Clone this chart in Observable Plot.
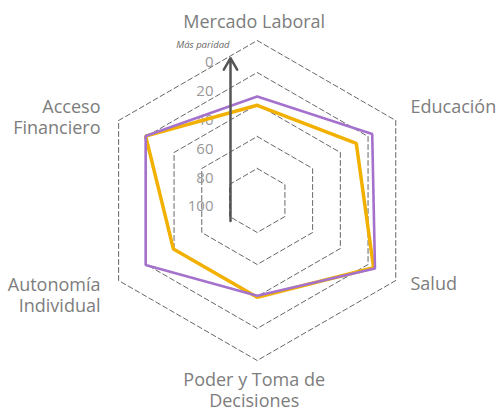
<!DOCTYPE html>
<html>
<head>
<meta charset="utf-8">
<script src="https://cdn.jsdelivr.net/npm/d3@7"></script>
<script src="https://cdn.jsdelivr.net/npm/@observablehq/plot@0.6"></script>
<style>
  html, body { margin: 0; padding: 0; background: #fff; }
  #chart svg { display: block; }
</style>
</head>
<body>
<div id="chart"></div>
<script>
// ---- data ----
const axesLabels = ["Mercado Laboral", "Educación", "Salud", "Poder y Toma de\nDecisiones", "Autonomía\nIndividual", "Acceso\nFinanciero"];
const seriesPurple = [35, 17, 15, 40.5, 19.5, 19.5];
const seriesYellow = [40.5, 28.5, 16, 39.5, 39.5, 19.5];
const tickValues = [0, 20, 40, 60, 80, 100];
const gridLevels = [0, 20, 40, 60, 80];
const axisTitle = "Más paridad";

// ---- geometry ----
const W = 500, H = 414;
const cx = 256.7, cy = 200, R = 160;
const rScale = d3.scaleLinear().domain([0, 100]).range([R, 0]);
const angle = i => (90 - 60 * i) * Math.PI / 180;
const px = (v, i) => cx + rScale(v) * Math.cos(angle(i));
const py = (v, i) => cy - rScale(v) * Math.sin(angle(i));

// grid rings
const ringPts = [];
for (const lv of gridLevels) {
  for (let i = 0; i <= 6; i++) ringPts.push({lv, x: px(lv, i % 6), y: py(lv, i % 6)});
}
const poly = arr => arr.map((v, i) => ({x: px(v, i), y: py(v, i)})).concat([{x: px(arr[0], 0), y: py(arr[0], 0)}]);

// label layout (radial placement, then nudged)
const labelR = [179, 178, 178, 189, 178, 178];
const labelDy = [0, -5, -6, 0, 5, 5];
const labels = axesLabels.map((t, i) => {
  const a = angle(i);
  const c = Math.cos(a);
  const r = labelR[i];
  let x = cx + r * c, y = cy - r * Math.sin(a) + labelDy[i];
  let anchor = Math.abs(c) < 0.1 ? "middle" : (c > 0 ? "start" : "end");
  if (anchor === "middle") x -= 3;
  if (c > 0.1) x = 410;
  if (c < -0.1) x = 100;
  return {t, x, y, anchor};
});

// vertical value axis (offset to the left of center)
const axX = 230;
const axScale = d3.scaleLinear().domain([0, 100]).range([62, 206]);

const font = "'Open Sans', sans-serif";
const chart = Plot.plot({
  width: W, height: H,
  margin: 0,
  x: {domain: [0, W], range: [0, W], axis: null},
  y: {domain: [0, H], range: [0, H], axis: null},
  style: {fontFamily: font, background: "#fff"},
  marks: [
    Plot.line(ringPts, {x: "x", y: "y", z: "lv", stroke: "#666", strokeWidth: 1, strokeDasharray: "5,3"}),
    Plot.text(tickValues, {x: () => 213, y: d => axScale(d), text: d => String(d), textAnchor: "end", fill: "#999", fontSize: 15}),
    Plot.line(poly(seriesYellow), {x: "x", y: "y", stroke: "#f2b100", strokeWidth: 3.5, strokeLinejoin: "miter"}),
    Plot.line(poly(seriesPurple), {x: "x", y: "y", stroke: "#a472cc", strokeWidth: 2.6, strokeLinejoin: "miter"}),
    Plot.arrow([{v1: 110, v2: -3}], {x1: () => axX, x2: () => axX, y1: d => axScale(d.v1), y2: d => axScale(d.v2), stroke: "#555", strokeWidth: 2.5, headLength: 8, bend: 0}),
    Plot.text([axisTitle], {x: () => 229, y: () => 44, text: d => d, textAnchor: "end", fill: "#666", fontSize: 9.5, fontStyle: "italic"}),
    ...["start", "middle", "end"].map(a => Plot.text(labels.filter(d => d.anchor === a), {x: "x", y: "y", text: "t", textAnchor: a, lineAnchor: "middle", lineHeight: 1.2, fill: "#7d7d7d", fontSize: 18}))
  ]
});
document.getElementById("chart").appendChild(chart);
</script>
</body>
</html>
